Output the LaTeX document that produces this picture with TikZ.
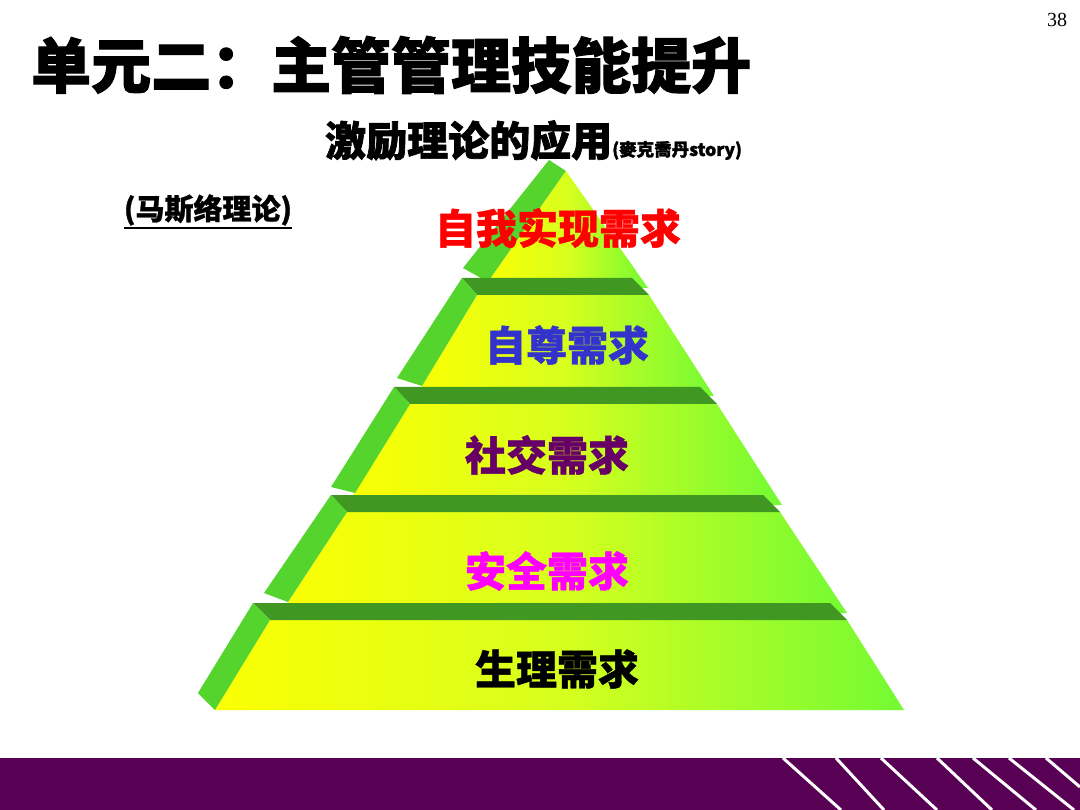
\documentclass[tikz,border=0pt]{standalone}
\usepackage{fontspec}
\setmainfont{Liberation Serif}
\newfontfamily\cjk{Noto Sans CJK SC}[BoldFeatures={FakeBold=1}]
\newfontfamily\cjkheavy{Noto Sans CJK SC}[BoldFeatures={FakeBold=1.8}]
\definecolor{bandpurple}{RGB}{88,0,84}
\definecolor{sidegreen}{RGB}{85,212,46}
\definecolor{stripgreen}{RGB}{64,152,34}
\definecolor{fy}{RGB}{255,255,0}
\definecolor{fm}{RGB}{215,255,30}
\definecolor{fg}{RGB}{112,250,52}
\definecolor{fe}{RGB}{196,255,40}
\definecolor{lblred}{RGB}{255,0,0}
\definecolor{lblblue}{RGB}{51,51,204}
\definecolor{lblpurple}{RGB}{102,0,102}
\definecolor{lblmag}{RGB}{255,0,255}
\pgfdeclarehorizontalshading{tierfront}{100bp}{color(0bp)=(fy); color(22bp)=(fy); color(50bp)=(fm); color(76bp)=(fg); color(100bp)=(fe)}
\tikzset{
  sideface/.style={fill=sidegreen},
  topstrip/.style={fill=stripgreen},
  frontface/.style={shading=tierfront},
  tierlabel/.style={font=\cjk\bfseries\fontsize{41}{41}\selectfont, inner sep=0pt},
  stripe/.style={draw=white, line width=3pt},
}
\begin{document}
\begin{tikzpicture}[x=1pt,y=-1pt]
\useasboundingbox (0,0) rectangle (1080,810);
\fill[white] (0,0) rectangle (1080,810);

% page number
\node[font=\fontsize{20}{20}\selectfont, inner sep=0pt] (pagenum) at (1057,20) {38};

% title
\node[anchor=west, inner sep=0pt, font=\cjkheavy\bfseries\fontsize{60}{60}\selectfont] (title) at (31,65) {单元二：主管管理技能提升};

% subtitle
\node[anchor=base west, inner sep=0pt, font=\cjkheavy\bfseries\fontsize{41}{41}\selectfont] (subtitle) at (325,156) {激励理论的应用{\fontsize{17.5}{17.5}\selectfont(麥克喬丹story)}};

% theory label
\node[inner sep=0pt, font=\cjk\bfseries\fontsize{29}{29}\selectfont] (theory) at (208,210) {(马斯络理论)};
\draw[line width=2pt] ([yshift=-2pt]theory.south west) -- ([yshift=-2pt]theory.south east);

% ---- pyramid ----
% tier 1
\fill[sideface] (549,160) -- (566,171) -- (488,282) -- (463,268) -- cycle;
\path[frontface] (566,171) -- (648,288) -- (488,282) -- cycle;
% tier 2
\path[frontface] (477,295) -- (649,295) -- (714,396) -- (416,396) -- cycle;
\fill[topstrip] (462,278) -- (632,278) -- (649,295) -- (477,295) -- cycle;
\fill[sideface] (462,278) -- (477,295) -- (422,386) -- (397,378) -- cycle;
% tier 3
\path[frontface] (410,404) -- (717,404) -- (782,505) -- (347,505) -- cycle;
\fill[topstrip] (394,387) -- (700,387) -- (717,404) -- (410,404) -- cycle;
\fill[sideface] (394,387) -- (410,404) -- (355,493) -- (331,487) -- cycle;
% tier 4
\path[frontface] (347,512) -- (780,512) -- (847,613) -- (281,613) -- cycle;
\fill[topstrip] (331,495) -- (763,495) -- (780,512) -- (347,512) -- cycle;
\fill[sideface] (331,495) -- (347,512) -- (288,602) -- (264,593) -- cycle;
% tier 5
\path[frontface] (270,620) -- (847,620) -- (904,710) -- (215,710) -- cycle;
\fill[topstrip] (253,603) -- (830,603) -- (847,620) -- (270,620) -- cycle;
\fill[sideface] (253,603) -- (270,620) -- (215,710) -- (198,693) -- cycle;

% labels
\node[tierlabel, text=lblred] (selfact) at (558,228) {自我实现需求};
\node[tierlabel, text=lblblue] (esteem) at (567,345) {自尊需求};
\node[tierlabel, text=lblpurple] (social) at (547,455) {社交需求};
\node[tierlabel, text=lblmag] (safety) at (547,571) {安全需求};
\node[tierlabel, text=black] (physio) at (557,669) {生理需求};

% ---- bottom band ----
\fill[bandpurple] (0,758) rectangle (1080,810);
\draw[stripe] (783,758) -- (841,810);
\draw[stripe] (836,758) -- (884,810);
\draw[stripe] (881,758) -- (937,810);
\draw[stripe] (937,758) -- (992,810);
\draw[stripe] (973,758) -- (1036,810);
\draw[stripe] (1009,758) -- (1074,810);
\draw[stripe] (1046,758) -- (1080,787);
\end{tikzpicture}
\end{document}
